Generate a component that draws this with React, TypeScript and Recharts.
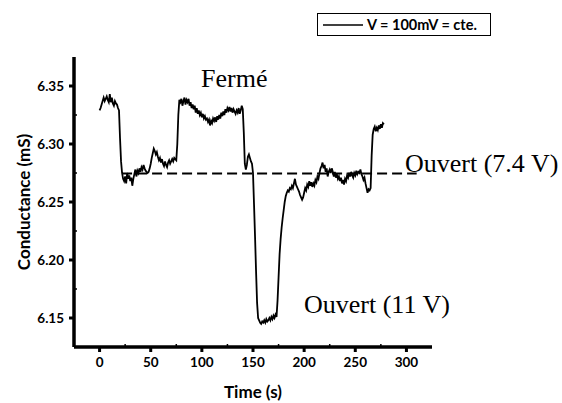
import React from 'react'
import { LineChart, Line, XAxis, YAxis, ReferenceLine, Legend } from 'recharts'

// one reading per second, starting at t = 0 s
const START_TIME = 0
const STEP = 1

// conductance (mS), t = 0 .. 278 s
const conductance = [
  // 0-19 s, closed
  6.329, 6.331, 6.334, 6.337, 6.340, 6.337, 6.339, 6.341, 6.338, 6.336,
  6.343, 6.336, 6.340, 6.335, 6.333, 6.337, 6.335, 6.334, 6.331, 6.329,
  // 20-24 s
  6.305, 6.285, 6.275, 6.270, 6.268,
  // 25-48 s
  6.272, 6.266, 6.275, 6.270, 6.273, 6.268, 6.271, 6.264, 6.270, 6.274,
  6.278, 6.272, 6.277, 6.275, 6.279, 6.276, 6.280, 6.278, 6.282, 6.279,
  6.277, 6.276, 6.275, 6.276,
  // 49-75 s
  6.279, 6.283, 6.288, 6.292, 6.296, 6.294, 6.291, 6.293, 6.289, 6.286,
  6.288, 6.284, 6.287, 6.283, 6.281, 6.285, 6.282, 6.280, 6.284, 6.286,
  6.283, 6.285, 6.287, 6.285, 6.288, 6.287, 6.286,
  // 76-78 s
  6.300, 6.325, 6.338,
  // 79-140 s, closed
  6.336, 6.339, 6.333, 6.337, 6.340, 6.334, 6.338, 6.336, 6.339, 6.333,
  6.336, 6.331, 6.334, 6.330, 6.333, 6.327, 6.331, 6.326, 6.329, 6.325,
  6.327, 6.323, 6.326, 6.322, 6.324, 6.321, 6.322, 6.319, 6.321, 6.316,
  6.320, 6.318, 6.322, 6.320, 6.323, 6.319, 6.324, 6.321, 6.325, 6.322,
  6.327, 6.324, 6.328, 6.325, 6.330, 6.327, 6.331, 6.329, 6.332, 6.328,
  6.331, 6.327, 6.330, 6.328, 6.326, 6.329, 6.327, 6.331, 6.326, 6.329,
  6.333, 6.330,
  // 141-149 s
  6.310, 6.283, 6.278, 6.282, 6.289, 6.291, 6.288, 6.285, 6.283,
  // 150-157 s
  6.275, 6.248, 6.220, 6.190, 6.163, 6.150, 6.148, 6.146,
  // 158-173 s, open (11 V)
  6.145, 6.147, 6.146, 6.148, 6.146, 6.149, 6.147, 6.148, 6.150, 6.148,
  6.151, 6.149, 6.152, 6.150, 6.153, 6.151,
  // 174-184 s
  6.165, 6.185, 6.205, 6.218, 6.228, 6.236, 6.243, 6.250, 6.255, 6.258,
  6.260,
  // 185-265 s
  6.259, 6.262, 6.261, 6.264, 6.262, 6.266, 6.270, 6.265, 6.263, 6.261,
  6.259, 6.256, 6.254, 6.252, 6.254, 6.258, 6.262, 6.260, 6.265, 6.263,
  6.268, 6.264, 6.267, 6.263, 6.266, 6.264, 6.269, 6.267, 6.272, 6.270,
  6.275, 6.279, 6.281, 6.284, 6.279, 6.282, 6.276, 6.279, 6.272, 6.276,
  6.278, 6.275, 6.279, 6.276, 6.272, 6.276, 6.271, 6.274, 6.270, 6.272,
  6.268, 6.271, 6.266, 6.269, 6.265, 6.270, 6.268, 6.273, 6.271, 6.275,
  6.272, 6.276, 6.273, 6.271, 6.275, 6.273, 6.277, 6.274, 6.276, 6.275,
  6.278, 6.274, 6.272, 6.269, 6.271, 6.266, 6.262, 6.258, 6.261, 6.260,
  6.262,
  // 266-278 s
  6.290, 6.308, 6.313, 6.315, 6.311, 6.314, 6.312, 6.316, 6.313, 6.317,
  6.314, 6.318, 6.317,
]

const xTicks = [0, 25, 50, 75, 100, 125, 150, 175, 200, 225, 250, 275, 300]
const yTicks = [6.15, 6.175, 6.2, 6.225, 6.25, 6.275, 6.3, 6.325, 6.35]
const xDomain = [-25, 325]
const yDomain = [6.125, 6.375]

// dashed "open (7.4 V)" level
const openLevel = 6.2745
const openFrom = 22
const openTo = 310

const data = conductance.map((g, i) => ({ t: START_TIME + i * STEP, g }))

const TICK_SIZE = 5
const TICK_MARGIN = 5
const SANS = 'Lato, "Open Sans", sans-serif'
const SERIF = '"Liberation Serif", "Times New Roman", serif'

const XTick = (props: any) => {
  const { x, y, payload } = props
  const axisY = y - TICK_SIZE - TICK_MARGIN
  const major = payload.value % 50 === 0
  if (!major) {
    return <line x1={x} x2={x} y1={axisY} y2={axisY - 3} stroke="#000" strokeWidth={1.5} />
  }
  return (
    <g>
      <line x1={x} x2={x} y1={axisY} y2={axisY + 5} stroke="#000" strokeWidth={3} />
      <text x={x} y={y} dy="0.71em" textAnchor="middle" fontFamily={SANS} fontWeight={700} fontSize={13.5} fill="#000">
        {payload.value}
      </text>
    </g>
  )
}

const YTick = (props: any) => {
  const { x, y, payload } = props
  const axisX = x + TICK_SIZE + TICK_MARGIN
  const major = Math.round(payload.value * 1000) % 50 === 0
  if (!major) {
    return <line x1={axisX} x2={axisX + 3} y1={y} y2={y} stroke="#000" strokeWidth={1.5} />
  }
  return (
    <g>
      <line x1={axisX} x2={axisX - 5} y1={y} y2={y} stroke="#000" strokeWidth={3} />
      <text x={x} y={y} dy="0.355em" textAnchor="end" fontFamily={SANS} fontWeight={700} fontSize={13.5} fill="#000">
        {payload.value.toFixed(2)}
      </text>
    </g>
  )
}

const LegendBox = () => (
  <div
    style={{
      width: 174,
      height: 23,
      boxSizing: 'border-box',
      border: '1px solid #000',
      display: 'flex',
      alignItems: 'center',
      background: '#fff',
    }}
  >
    <svg width={46} height={10} style={{ display: 'block' }}>
      <line x1={5} x2={45} y1={5} y2={5} stroke="#000" strokeWidth={1.3} />
    </svg>
    <span style={{ fontFamily: SANS, fontWeight: 700, fontSize: 14.5, color: '#000', whiteSpace: 'nowrap', marginLeft: 3 }}>
      V = 100mV = cte.
    </span>
  </div>
)

export default function App() {
  return (
    <div style={{ width: 562, height: 403, background: '#fff' }}>
      <style>{'body{margin:0}'}</style>
      <LineChart width={562} height={403} data={data} margin={{ top: 57, right: 130, bottom: 0, left: 0 }}>
        <XAxis
          dataKey="t"
          type="number"
          domain={xDomain}
          ticks={xTicks}
          allowDataOverflow
          height={56}
          axisLine={{ stroke: '#000', strokeWidth: 3.5 }}
          tickLine={false}
          tickSize={TICK_SIZE}
          tickMargin={TICK_MARGIN}
          tick={<XTick />}
          interval={0}
          label={{
            value: 'Time (s)',
            position: 'insideBottom',
            offset: 5,
            style: { fontFamily: SANS, fontWeight: 700, fontSize: 17, fill: '#000' },
          }}
        />
        <YAxis
          type="number"
          domain={yDomain}
          ticks={yTicks}
          allowDataOverflow
          width={74}
          axisLine={{ stroke: '#000', strokeWidth: 3.5 }}
          tickLine={false}
          tickSize={TICK_SIZE}
          tickMargin={TICK_MARGIN}
          tick={<YTick />}
          interval={0}
          label={{
            value: 'Conductance (mS)',
            angle: -90,
            position: 'insideLeft',
            offset: 24,
            style: { textAnchor: 'middle', fontFamily: SANS, fontWeight: 700, fontSize: 17, fill: '#000' },
          }}
        />
        <ReferenceLine
          segment={[
            { x: openFrom, y: openLevel },
            { x: openTo, y: openLevel },
          ]}
          stroke="#000"
          strokeWidth={2}
          strokeDasharray="10 5"
          ifOverflow="visible"
        />
        <Line
          type="linear"
          dataKey="g"
          stroke="#000"
          strokeWidth={1.8}
          dot={false}
          isAnimationActive={false}
        />
        <Legend layout="vertical" align="center" verticalAlign="middle" wrapperStyle={{ left: 317, top: 13, width: 174 }} content={<LegendBox />} />
        <text x={201} y={87} fontFamily={SERIF} fontSize={26} fill="#000">Fermé</text>
        <text x={405} y={172} fontFamily={SERIF} fontSize={26} fill="#000">Ouvert (7.4 V)</text>
        <text x={304} y={313} fontFamily={SERIF} fontSize={26} fill="#000">Ouvert (11 V)</text>
      </LineChart>
    </div>
  )
}
